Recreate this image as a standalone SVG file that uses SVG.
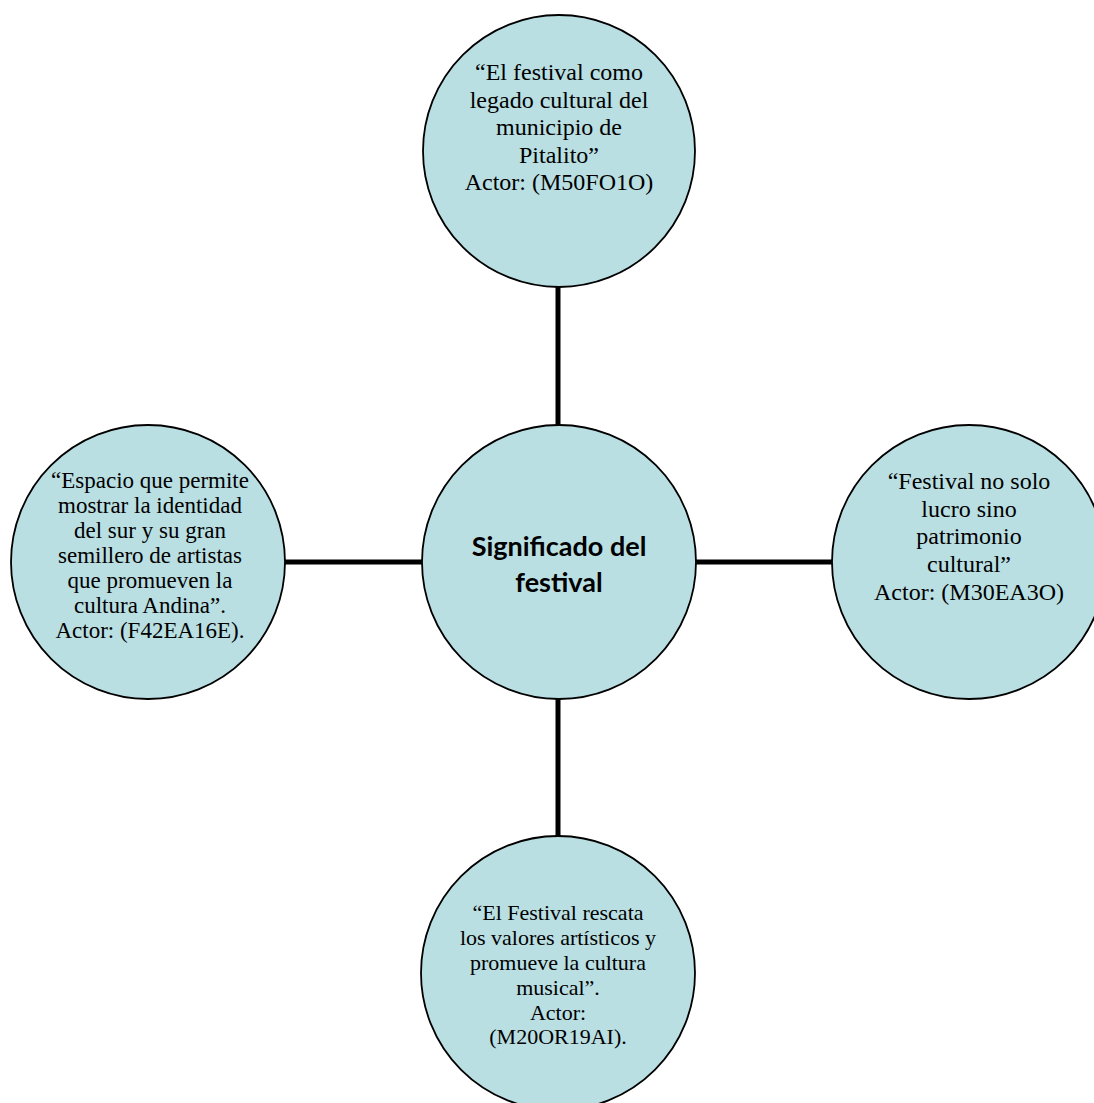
<svg xmlns="http://www.w3.org/2000/svg" width="1094" height="1103" viewBox="0 0 1094 1103">
<style>
.node{fill:#B9DFE3;stroke:#000;stroke-width:1.8}
.t{font-family:"Liberation Serif","Times New Roman",serif;font-size:22px;fill:#000;text-anchor:middle}
.t23{font-size:23px}
.t24{font-size:24px}
.c{font-family:Lato,"Liberation Sans",sans-serif;font-weight:bold;font-size:27px;fill:#000;text-anchor:middle}
.edge{stroke:#000;stroke-width:5;fill:none}
</style>
<rect width="1094" height="1103" fill="#fff"/>
<g id="connectors">
<line class="edge" x1="558" y1="286" x2="558" y2="426"/>
<line class="edge" x1="558" y1="698" x2="558" y2="837"/>
<line class="edge" x1="283" y1="562" x2="424" y2="562"/>
<line class="edge" x1="695" y1="562" x2="833" y2="562"/>
</g>
<g id="node-top">
<circle class="node" cx="559" cy="151" r="136"/>
<text class="t t24"><tspan x="559" y="80">“El festival como</tspan><tspan x="559" y="107.5">legado cultural del</tspan><tspan x="559" y="135">municipio de</tspan><tspan x="559" y="162.5">Pitalito”</tspan><tspan x="559" y="190">Actor: (M50FO1O)</tspan></text>
</g>
<g id="node-center">
<circle class="node" cx="559" cy="562" r="137"/>
<text class="c"><tspan x="559" y="556">Significado del</tspan><tspan x="559" y="592">festival</tspan></text>
</g>
<g id="node-left">
<circle class="node" cx="148" cy="562" r="137"/>
<text class="t t23"><tspan x="150" y="488">“Espacio que permite</tspan><tspan x="150" y="513">mostrar la identidad</tspan><tspan x="150" y="538">del sur y su gran</tspan><tspan x="150" y="563">semillero de artistas</tspan><tspan x="150" y="588">que promueven la</tspan><tspan x="150" y="613">cultura Andina”.</tspan><tspan x="150" y="638">Actor: (F42EA16E).</tspan></text>
</g>
<g id="node-right">
<circle class="node" cx="969" cy="562" r="137"/>
<text class="t t24"><tspan x="969" y="488.5">“Festival no solo</tspan><tspan x="969" y="516.5">lucro sino</tspan><tspan x="969" y="544">patrimonio</tspan><tspan x="969" y="571.5">cultural”</tspan><tspan x="969" y="599.5">Actor: (M30EA3O)</tspan></text>
</g>
<g id="node-bottom">
<circle class="node" cx="558" cy="973" r="137"/>
<text class="t"><tspan x="558" y="920">“El Festival rescata</tspan><tspan x="558" y="945">los valores artísticos y</tspan><tspan x="558" y="970">promueve la cultura</tspan><tspan x="558" y="995">musical”.</tspan><tspan x="558" y="1020">Actor:</tspan><tspan x="558" y="1044">(M20OR19AI).</tspan></text>
</g>
</svg>
